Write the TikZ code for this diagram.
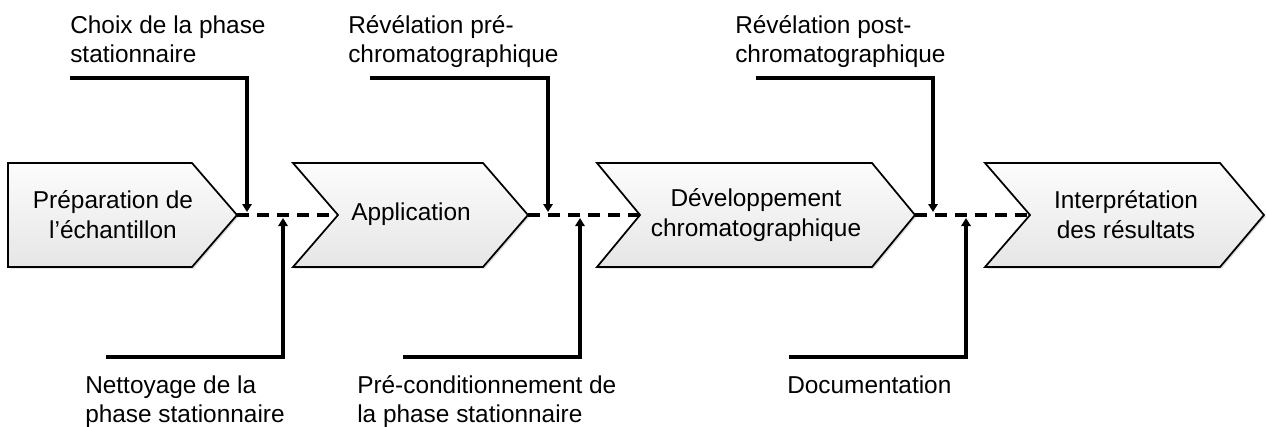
\documentclass[tikz,border=0pt]{standalone}
\usepackage{fontspec}
\setmainfont{Liberation Sans}
\usetikzlibrary{arrows.meta,shadows}
\begin{document}
\begin{tikzpicture}[x=0.75pt,y=-0.75pt,
  chev/.style={draw=black,line width=1.3pt,line join=miter,top color=gray!2,bottom color=gray!20,
    drop shadow={shadow xshift=1.2pt,shadow yshift=-1.2pt,opacity=0.3,fill=gray}},
  lbl/.style={font=\fontsize{18.3}{21.75}\selectfont,align=left,inner sep=0pt,anchor=base west},
  ctext/.style={font=\fontsize{18.3}{22.5}\selectfont,align=center,inner sep=0pt,anchor=center},
  conn/.style={line width=2.6pt,line join=miter,-{Triangle[width=7pt,length=6pt]}},
  link/.style={line width=2.6pt,dash pattern=on 9pt off 6pt}]
\useasboundingbox (0,0) rectangle (1266,426);

% chevrons
\draw[chev] (8,163) -- (192,163) -- (237,215) -- (192,267) -- (8,267) -- cycle;
\draw[chev] (293,163) -- (483,163) -- (528,215) -- (483,267) -- (293,267) -- (338,215) -- cycle;
\draw[chev] (597,163) -- (872,163) -- (915,215) -- (872,267) -- (597,267) -- (640,215) -- cycle;
\draw[chev] (985,163) -- (1220,163) -- (1264,215) -- (1220,267) -- (985,267) -- (1030,215) -- cycle;

% named tips and notches
\coordinate (t1) at (237,215);
\coordinate (n2) at (338,215);
\coordinate (t2) at (528,215);
\coordinate (n3) at (640,215);
\coordinate (t3) at (915,215);
\coordinate (n4) at (1030,215);

% chevron texts
\node[ctext] (p1) at (113,215) {Préparation de\\l’échantillon};
\node[ctext] (p2) at (411,214) {Application};
\node[ctext] (p3) at (756,215) {Développement\\chromatographique};
\node[ctext] (p4) at (1126,215) {Interprétation\\des résultats};

% dashed links
\draw[link] (t1) -- (n2);
\draw[link] (t2) -- (n3);
\draw[link] (t3) -- (n4);

% labels (base = last line baseline)
\node[lbl] (l1) at (70,62) {Choix de la phase\\stationnaire};
\node[lbl] (l2) at (348,62) {Révélation pré-\\chromatographique};
\node[lbl] (l3) at (735,62) {Révélation post-\\chromatographique};
\node[lbl] (l4) at (85,422) {Nettoyage de la\\phase stationnaire};
\node[lbl] (l5) at (357,422) {Pré-conditionnement de\\la phase stationnaire};
\node[lbl] (l6) at (787,393) {Documentation};

% connector ends
\coordinate (s1) at (70,78);   \coordinate (e1) at (247,212);
\coordinate (s2) at (370,78);  \coordinate (e2) at (548,212);
\coordinate (s3) at (756,78);  \coordinate (e3) at (933,212);
\coordinate (s4) at (106,357); \coordinate (e4) at (283,218);
\coordinate (s5) at (403,357); \coordinate (e5) at (580,218);
\coordinate (s6) at (789,357); \coordinate (e6) at (966,218);

\draw[conn] (s1) -| (e1);
\draw[conn] (s2) -| (e2);
\draw[conn] (s3) -| (e3);
\draw[conn] (s4) -| (e4);
\draw[conn] (s5) -| (e5);
\draw[conn] (s6) -| (e6);
\end{tikzpicture}
\end{document}
